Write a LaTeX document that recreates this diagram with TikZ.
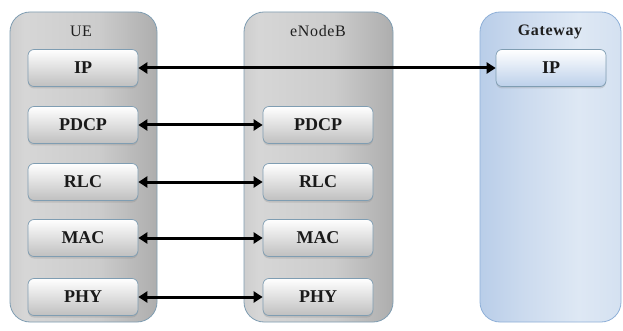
\documentclass[tikz,border=0pt]{standalone}
\usepackage{fontspec}
\setmainfont{Liberation Serif}
\usetikzlibrary{arrows.meta,shadows}
\definecolor{edgeblue}{HTML}{7F9DB2}
\definecolor{gwedge}{HTML}{8FB0D8}
\definecolor{gwboxlow}{HTML}{BCD0EA}
% grey body of a protocol stack: mid grey at the left, light in the middle, dark at the right
\pgfdeclarehorizontalshading{stackgrey}{100bp}{
  color(0bp)=(black!36); color(30bp)=(black!16); color(55bp)=(black!20);
  color(85bp)=(black!38); color(100bp)=(black!52)}
% blue body of the gateway stack
\pgfdeclarehorizontalshading{stackblue}{100bp}{
  color(0bp)=({rgb,255:red,155;green,185;blue,224}); color(40bp)=({rgb,255:red,203;green,218;blue,238});
  color(60bp)=({rgb,255:red,222;green,232;blue,244}); color(100bp)=({rgb,255:red,196;green,213;blue,236})}
\tikzset{
  container/.style={draw=edgeblue, line width=0.8pt, rounded corners=20pt, shading=stackgrey},
  gwcontainer/.style={draw=gwedge, line width=0.8pt, rounded corners=20pt, shading=stackblue},
  layerbox/.style={draw=edgeblue, line width=0.7pt, rounded corners=6pt,
    top color=white, bottom color=black!25, minimum width=110pt, minimum height=37pt,
    font=\fontsize{18}{20}\selectfont\bfseries, text=black!90,
    drop shadow={shadow xshift=0pt, shadow yshift=-2pt, opacity=0.25}},
  gwbox/.style={layerbox, top color=white, bottom color=gwboxlow},
  title/.style={font=\fontsize{16}{18}\selectfont\addfontfeature{LetterSpace=4}, text=black!88},
  boldtitle/.style={font=\fontsize{16}{18}\selectfont\bfseries\addfontfeature{LetterSpace=4}, text=black!88},
  link/.style={line width=3pt, {Triangle[length=9pt,width=11pt]}-{Triangle[length=9pt,width=11pt]}},
}
\begin{document}
\begin{tikzpicture}[x=1pt,y=-1pt]
\useasboundingbox (0,0) rectangle (623,331);
\fill[white] (0,0) rectangle (623,331);

% protocol stacks
\path[container] (10,12) rectangle (157,322);
\path[container] (244,12) rectangle (393,322);
\path[gwcontainer] (480,12) rectangle (621,322);

\node[title] (ue) at (81,31) {UE};
\node[title] (enb) at (318,31) {eNodeB};
\node[boldtitle] (gw) at (550,32) {Gateway};

% UE layers
\node[layerbox] (ueip)   at (83,68)  {IP};
\node[layerbox] (uepdcp) at (83,125) {PDCP};
\node[layerbox] (uerlc)  at (83,182) {RLC};
\node[layerbox] (uemac)  at (83,238) {MAC};
\node[layerbox] (uephy)  at (83,297) {PHY};

% eNodeB layers
\node[layerbox] (enbpdcp) at (318,125) {PDCP};
\node[layerbox] (enbrlc)  at (318,182) {RLC};
\node[layerbox] (enbmac)  at (318,238) {MAC};
\node[layerbox] (enbphy)  at (318,297) {PHY};

% Gateway layer
\node[gwbox] (gwip) at (551,68) {IP};

% peer links
\draw[link] (ueip.east) -- (gwip.west);
\draw[link] (uepdcp.east) -- (enbpdcp.west);
\draw[link] (uerlc.east) -- (enbrlc.west);
\draw[link] (uemac.east) -- (enbmac.west);
\draw[link] (uephy.east) -- (enbphy.west);
\end{tikzpicture}
\end{document}
